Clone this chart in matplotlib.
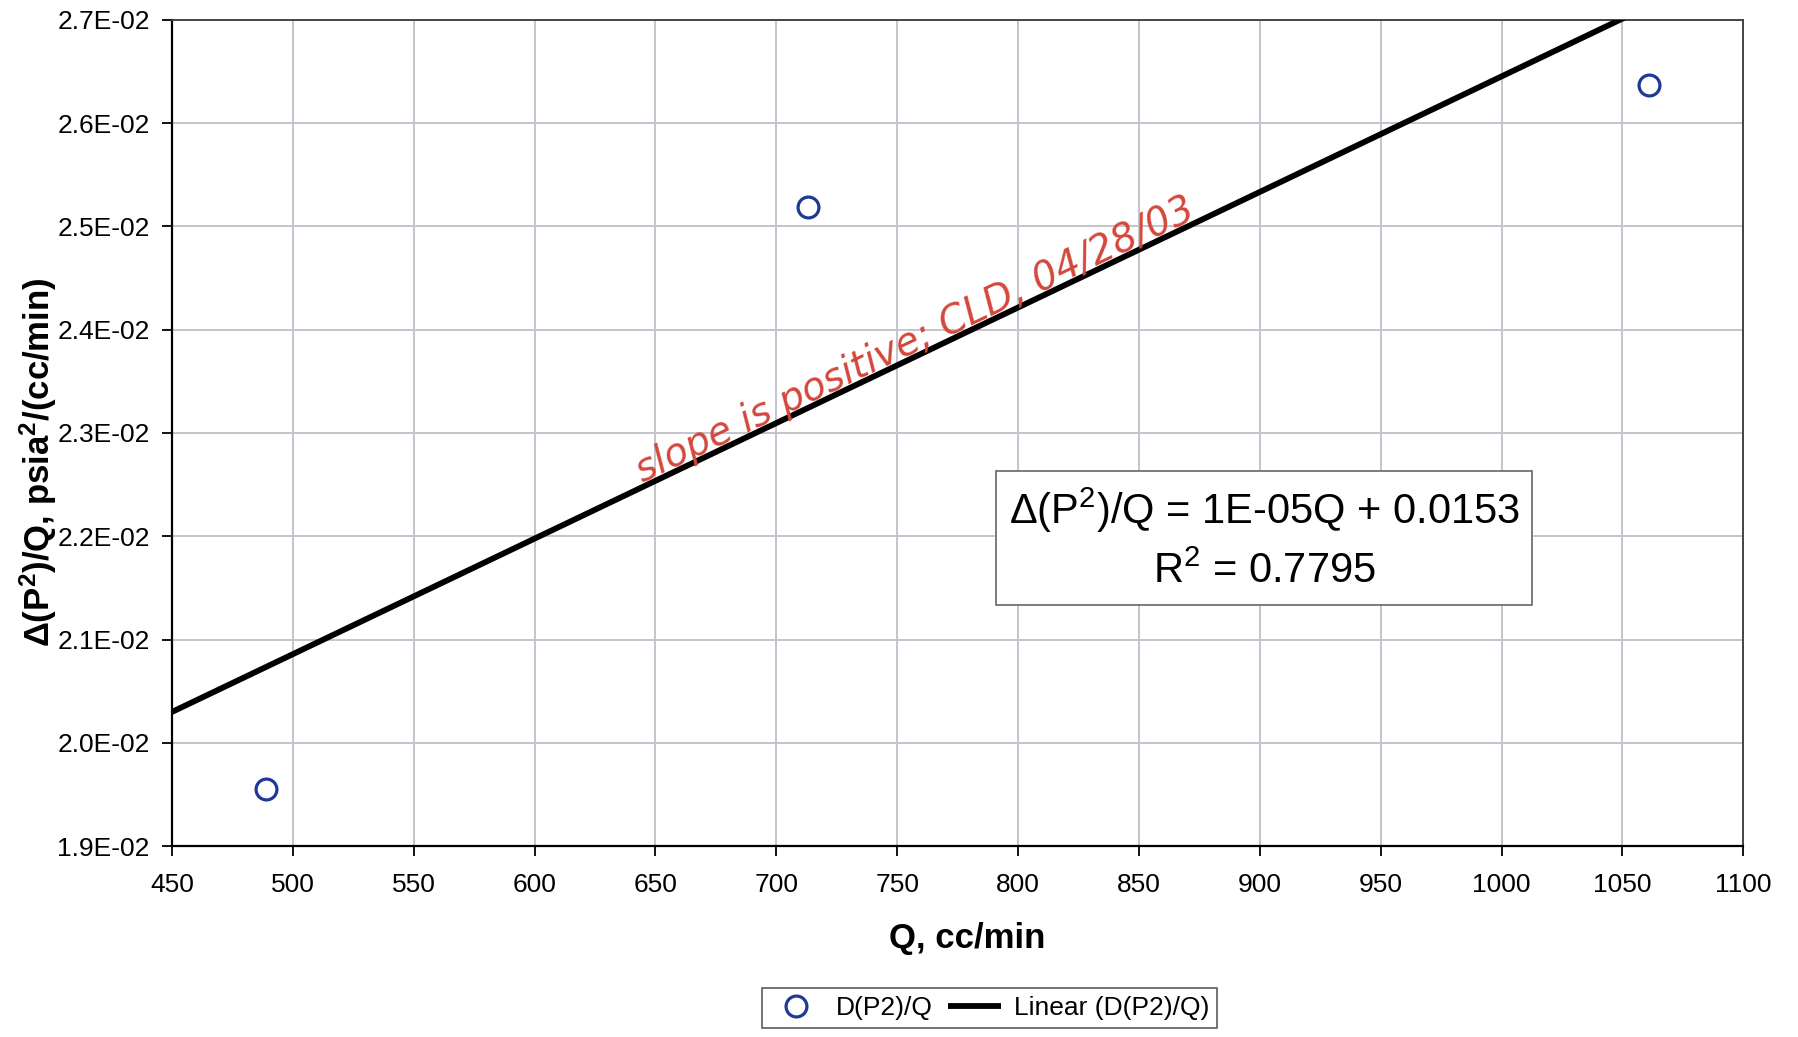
import numpy as np
import matplotlib
matplotlib.use("Agg")
import matplotlib.pyplot as plt
from matplotlib.ticker import FuncFormatter

# -------------------------
# Data
# -------------------------
flow_q = [489, 713, 1061]                 # Q, cc/min
dp2_over_q = [0.01955, 0.02519, 0.02637]  # delta(P^2)/Q, psia^2/(cc/min)

x_ticks = list(range(450, 1101, 50))
y_ticks = [0.019, 0.020, 0.021, 0.022, 0.023, 0.024, 0.025, 0.026, 0.027]

trend_text = ["Δ(P$^2$)/Q = 1E-05Q + 0.0153", "R$^2$ = 0.7795"]
note_text = "slope is positive; CLD, 04/28/03"

# -------------------------
# Style
# -------------------------
plt.rcParams["font.family"] = ["Liberation Sans", "DejaVu Sans"]
plt.rcParams["mathtext.fontset"] = "custom"
plt.rcParams["mathtext.rm"] = "Liberation Sans"
plt.rcParams["mathtext.it"] = "Liberation Sans:italic"
plt.rcParams["mathtext.bf"] = "Liberation Sans:bold"

fig = plt.figure(figsize=(17.99, 10.37), dpi=100)
ax = fig.add_axes([0.0956, 0.184, 0.8734, 0.797])

# linear trend through the measured points
slope, intercept = np.polyfit(flow_q, dp2_over_q, 1)
q_line = np.array([x_ticks[0], x_ticks[-1]])
ax.plot(q_line, slope * q_line + intercept, color="black", lw=4.2,
        solid_capstyle="butt", label="Linear (D(P2)/Q)", zorder=3)
ax.plot(flow_q, dp2_over_q, linestyle="none", marker="o", markersize=15,
        markerfacecolor="none", markeredgecolor="#1f3a96", markeredgewidth=2.3,
        label="D(P2)/Q", zorder=4)

ax.set_xlim(x_ticks[0], x_ticks[-1])
ax.set_ylim(y_ticks[0], y_ticks[-1])
ax.set_xticks(x_ticks)
ax.set_yticks(y_ticks)
ax.yaxis.set_major_formatter(FuncFormatter(lambda v, p: f"{v:.1E}"))
ax.tick_params(axis="both", labelsize=19, length=7, width=1.3, direction="out")
ax.tick_params(axis="x", pad=12)
ax.tick_params(axis="y", pad=9)
ax.grid(True, color="#c4c4cc", lw=1.4)
ax.set_axisbelow(True)
for side in ["top", "right"]:
    ax.spines[side].set_color("#444444")
    ax.spines[side].set_linewidth(1.4)
for side in ["left", "bottom"]:
    ax.spines[side].set_color("black")
    ax.spines[side].set_linewidth(1.6)

# axis titles
fig.text(0.5375, 0.095, "Q, cc/min", fontsize=25, fontweight="bold",
         ha="center", va="center")
fig.text(0.0211, 0.554, r"Δ(P$^\mathbf{2}$)/Q, psia$^\mathbf{2}$/(cc/min)",
         fontsize=25, fontweight="bold", rotation=90, ha="center", va="center")

# trendline equation box
ax.text(0.695, 0.372, "\n".join(trend_text), transform=ax.transAxes,
        fontsize=30, ha="center", va="center", linespacing=1.55,
        bbox=dict(boxstyle="square,pad=0.3", facecolor="white",
                  edgecolor="#666666", lw=1.2), zorder=5)

# handwritten note along the trend line
note_q = 760
p1 = ax.transData.transform((500, slope * 500 + intercept))
p2 = ax.transData.transform((1000, slope * 1000 + intercept))
angle = np.degrees(np.arctan2(p2[1] - p1[1], p2[0] - p1[0]))
off = 3
ax.annotate(note_text, xy=(note_q, slope * note_q + intercept),
            xytext=(-off * np.sin(np.radians(angle)), off * np.cos(np.radians(angle))),
            textcoords="offset points", rotation=angle, rotation_mode="anchor",
            ha="center", va="baseline", fontsize=28, color="#d4473b",
            family="DejaVu Sans", style="oblique", fontweight="light", zorder=6)

# legend below the chart
handles, labels = ax.get_legend_handles_labels()
leg = fig.legend(handles[::-1], labels[::-1], loc="center",
                 bbox_to_anchor=(0.550, 0.028), ncol=2, fontsize=19,
                 frameon=True, fancybox=False, edgecolor="#333333",
                 handlelength=2.0, handletextpad=0.5, columnspacing=0.6,
                 borderpad=0.3)
leg.get_frame().set_linewidth(1.2)

fig.savefig("out.png", dpi=100)
